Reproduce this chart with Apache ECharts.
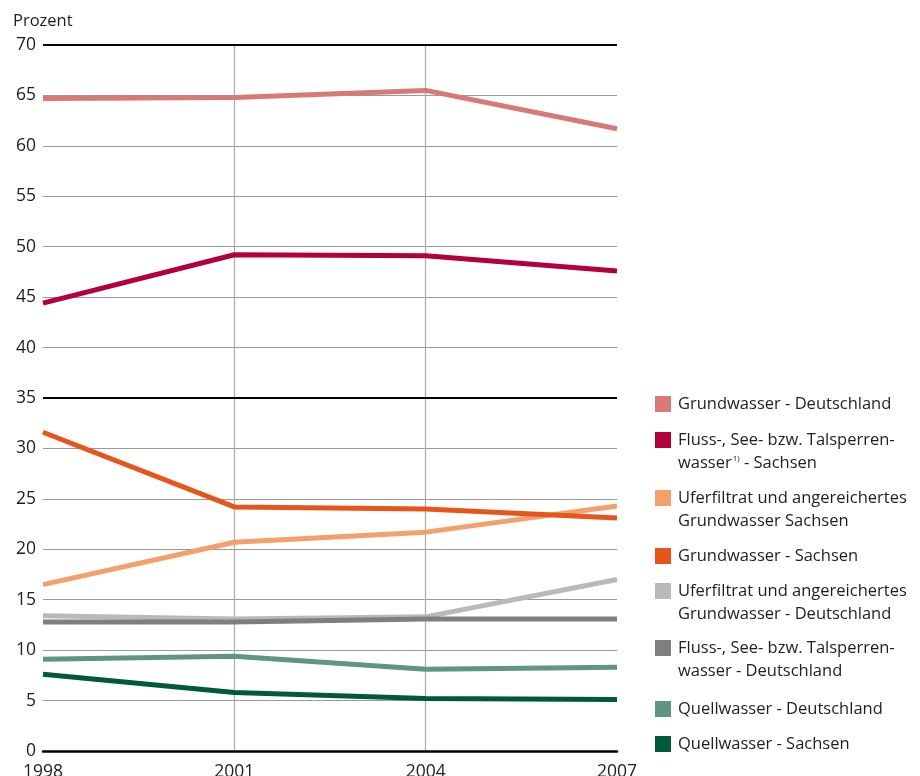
<!DOCTYPE html>
<html>
<head>
<meta charset="utf-8">
<script src="https://cdn.jsdelivr.net/npm/echarts@6/dist/echarts.min.js"></script>
<style>
  html, body { margin: 0; padding: 0; background: #fff; }
  #chart { width: 920px; height: 776px; }
</style>
</head>
<body>
<div id="chart"></div>
<script>
// Years on the x axis
const years = ['1998', '2001', '2004', '2007'];

// Shares of water sources in drinking water supply, percent
const grundwasserDE = [64.7, 64.8, 65.5, 61.7];
const flussSN = [44.4, 49.2, 49.1, 47.6];
const uferfiltratSN = [16.5, 20.7, 21.7, 24.3];
const grundwasserSN = [31.6, 24.2, 24.0, 23.1];
const uferfiltratDE = [13.4, 13.1, 13.3, 17.0];
const flussDE = [12.8, 12.8, 13.1, 13.1];
const quellwasserDE = [9.1, 9.4, 8.1, 8.3];
const quellwasserSN = [7.6, 5.8, 5.2, 5.1];

const FONT = '"Open Sans", "Noto Sans", sans-serif';

const seriesDefs = [
  { name: 'Grundwasser - Deutschland', data: grundwasserDE, color: '#d87977' },
  { name: 'Fluss-, See- bzw. Talsperrenwasser¹⁾ - Sachsen', data: flussSN, color: '#b4003a' },
  { name: 'Uferfiltrat und angereichertes Grundwasser Sachsen', data: uferfiltratSN, color: '#f4a06c' },
  { name: 'Grundwasser - Sachsen', data: grundwasserSN, color: '#e8551a' },
  { name: 'Uferfiltrat und angereichertes Grundwasser - Deutschland', data: uferfiltratDE, color: '#b9b9b9' },
  { name: 'Fluss-, See- bzw. Talsperrenwasser - Deutschland', data: flussDE, color: '#7f7f7f' },
  { name: 'Quellwasser - Deutschland', data: quellwasserDE, color: '#5f9681' },
  { name: 'Quellwasser - Sachsen', data: quellwasserSN, color: '#005a3a' }
];

// Legend entries: lines of text per entry, and vertical position of the first line
const legendRows = [
  { lines: ['Grundwasser - Deutschland'], y: 404 },
  { lines: ['Fluss-, See- bzw. Talsperren-', 'wasser{sup|1)} - Sachsen'], y: 440 },
  { lines: ['Uferfiltrat und angereichertes', 'Grundwasser Sachsen'], y: 498 },
  { lines: ['Grundwasser - Sachsen'], y: 556 },
  { lines: ['Uferfiltrat und angereichertes', 'Grundwasser - Deutschland'], y: 591 },
  { lines: ['Fluss-, See- bzw. Talsperren-', 'wasser - Deutschland'], y: 648 },
  { lines: ['Quellwasser - Deutschland'], y: 709 },
  { lines: ['Quellwasser - Sachsen'], y: 744 }
];

const graphics = [];
legendRows.forEach((row, i) => {
  graphics.push({
    type: 'rect',
    shape: { x: 655, y: row.y - 8, width: 16, height: 16 },
    style: { fill: seriesDefs[i].color }
  });
  row.lines.forEach((ln, j) => {
    graphics.push({
      type: 'text',
      x: 678, y: row.y + j * 23,
      style: {
        text: ln,
        font: '16.5px ' + FONT,
        fill: '#1e1e1e',
        verticalAlign: 'middle',
        rich: {
          sup: { fontSize: 8, verticalAlign: 'top', padding: [0, 0, 8, 1], fill: '#1e1e1e', fontFamily: FONT }
        }
      }
    });
  });
});

graphics.push({
  type: 'text', x: 13, y: 21,
  style: { text: 'Prozent', font: '16.5px ' + FONT, fill: '#1e1e1e', verticalAlign: 'middle' }
});

const chart = echarts.init(document.getElementById('chart'), null, { renderer: 'canvas' });

const series = seriesDefs.map((s, i) => ({
  name: s.name,
  type: 'line',
  data: s.data,
  symbol: 'none',
  z: 10 + i,
  lineStyle: { color: s.color, width: 5, cap: 'butt', join: 'round' },
  itemStyle: { color: s.color },
  animation: false
}));

// Black reference lines at 35 and 70
series.push({
  type: 'line',
  data: [],
  markLine: {
    silent: true,
    symbol: 'none',
    label: { show: false },
    lineStyle: { color: '#000', width: 2, type: 'solid' },
    data: [{ yAxis: 35 }, { yAxis: 70 }]
  },
  z: 5,
  animation: false
});

chart.setOption({
  animation: false,
  backgroundColor: '#fff',
  grid: { left: 43, right: 303, top: 45, bottom: 25, containLabel: false, outerBoundsMode: 'none' },
  xAxis: {
    type: 'category',
    data: years,
    boundaryGap: false,
    axisLine: { show: true, lineStyle: { color: '#000', width: 2.5 } },
    axisTick: { show: false },
    axisLabel: { color: '#1e1e1e', fontSize: 17.5, fontFamily: FONT, margin: 12 },
    splitLine: {
      show: true,
      interval: (idx) => idx === 1 || idx === 2,
      lineStyle: { color: '#aaaaaa', width: 1.2 }
    }
  },
  yAxis: {
    type: 'value',
    min: 0, max: 70, interval: 5,
    axisLine: { show: false },
    axisTick: { show: false },
    axisLabel: { color: '#1e1e1e', fontSize: 17.5, fontFamily: FONT, margin: 7 },
    splitLine: { show: true, lineStyle: { color: '#9a9a9a', width: 1.2 } }
  },
  series: series,
  graphic: graphics
});
</script>
</body>
</html>
